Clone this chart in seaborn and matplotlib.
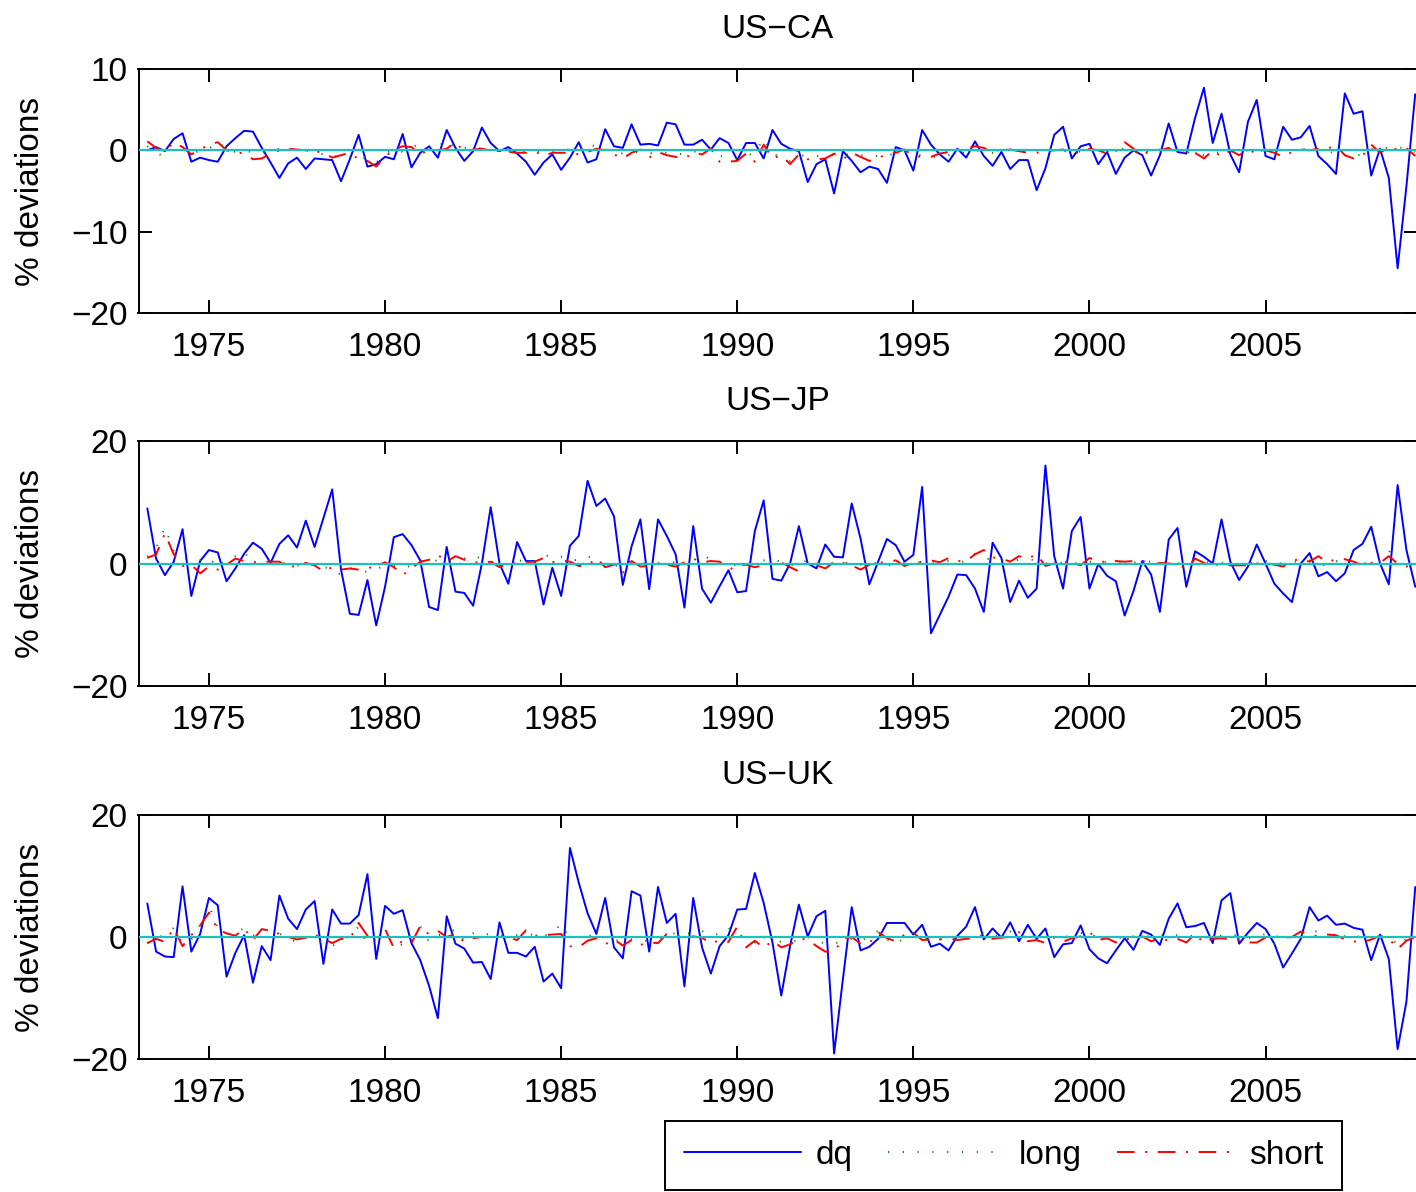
import numpy as np
import pandas as pd
import matplotlib
matplotlib.use("Agg")
import matplotlib.pyplot as plt
from matplotlib.lines import Line2D
import seaborn as sns

# Quarterly observations, 1973Q2 .. 2009Q2
first_quarter = 1973.25
n_quarters = 145
quarters = first_quarter + 0.25 * np.arange(n_quarters)

# ---------------- US-CA ----------------
ca_dq = [0.0, 0.4, -0.1, 1.4, 2.1, -1.4, -0.9, -1.2, -1.4, 0.5, 1.5, 2.4, 2.3, 0.3, -1.5, -3.4, -1.6, -0.9, -2.3, -1.0,
         -1.1, -1.2, -3.8, -1.1, 1.9, -2.0, -1.7, -0.8, -1.1, 2.0, -2.1, -0.3, 0.5, -0.9, 2.5, 0.3, -1.3, -0.1, 2.8, 0.9,
         -0.1, 0.4, -0.4, -1.4, -3.0, -1.5, -0.5, -2.4, -0.9,
         1.0, -1.5, -1.1, 2.6, 0.5, 0.3, 3.2, 0.7, 0.8, 0.6, 3.4, 3.2, 0.7, 0.7, 1.3, 0.1, 1.5, 0.9, -1.2, 0.9,
         0.9, -1.0, 2.5, 0.8, 0.2, -0.1, -3.9, -1.7, -1.1, -5.3, -0.1, -1.3, -2.7, -2.0, -2.3, -4.0, 0.4, 0.0, -2.5,
         2.5, 0.7, -0.5, -1.4, 0.2, -0.9, 1.1, -0.7, -1.9,
         -0.2, -2.3, -1.2, -1.2, -4.9, -2.2, 1.9, 2.9, -1.0, 0.5, 0.8, -1.7, -0.2, -2.9, -0.9, 0.0, -0.6, -3.1, -0.6,
         3.3, -0.2, -0.4, 4.0, 7.7, 0.9, 4.5, -0.5, -2.7, 3.5, 6.2, -0.7, -1.1, 2.9, 1.3, 1.6, 3.0, -0.7, -1.7, -2.9,
         7.0, 4.5, 4.8, -3.1, 0.2, -3.4, -14.5, -4.4, 6.9]
ca_long = [0.5, -0.3, -0.8, 0.4, 0.3, -0.5, 0.0, 0.2, 1.1, 0.1, -0.2, -0.1, -0.2, -0.3, -0.1, 0.2, 0.1, 0.2, 0.0, -0.3,
           -0.5, -0.9, -0.5, -0.8, -0.6, -1.1, -1.5, -0.4, 0.2, -0.2, 0.3, 0.9, 0.2, 0.4, 1.3, 0.2, 0.3, 0.5, 0.2, 0.1,
           0.0, -0.1, -0.2, -0.1, 0.0, -0.2, -0.1, 0.1, 0.1,
           -0.1, 0.9, 0.4, 0.1, -0.1, -0.4, -0.2, -0.3, -0.4, -0.2, -0.3, -0.4, -0.5, -0.2, 0.0, 0.2, -0.7, -0.8, -1.0,
           -0.6, -0.4, 1.5, -0.4, -0.9, -1.3, -0.6, -0.7, -0.7, -0.6, -0.6, -0.5, -0.5, -0.6, -0.8, -0.7, -0.7, -0.3,
           -0.2, -0.5, -0.6, -0.9, -0.7, -0.6, -0.4, -0.2, 0.0, -0.2, -0.3,
           0.1, 0.1, 0.0, -0.1, 0.0, 0.1, 0.2, 0.0, -0.4, -0.1, 0.1, 0.0, 0.0, -0.2, 0.3, 0.0, -0.8, 0.4, 0.1, 0.2,
           -0.1, -0.2, -0.4, -0.6, -0.2, -0.3, -0.1, -0.2, 0.0, -0.1, 0.0, -0.2, -0.3, 0.1, 0.4, -0.3, 0.1, 0.0, -0.5,
           -0.6, -1.0, -0.3, 0.2, 0.0, 0.4, 0.4, 0.2, -0.2]
ca_short = [1.1, 0.3, -0.2, 1.0, 0.4, -0.5, 0.1, 0.7, 1.0, 0.0, -0.2, -0.4, -1.1, -1.0, -0.4, 0.0, 0.2, 0.1, 0.0, -0.1,
            -0.3, -0.9, -0.6, -0.3, -1.1, -1.3, -2.0, -0.8, 0.1, 0.5, 0.4, -0.5, 0.1, 0.0, 0.2, 1.0, -0.2, 0.1, 0.2,
            0.0, -0.1, -0.2, -0.3, -0.3, -0.1, -0.7, -0.3, -0.3, -0.3,
            -0.5, -0.2, 0.2, 0.0, -0.5, -1.0, -0.3, 0.1, -0.9, -0.2, -0.6, -0.8, -1.0, -0.3, -0.5, 0.2, -1.4, -1.4,
            -1.3, -0.4, -1.4, 0.7, -1.0, -0.6, -1.7, -0.5, -1.1, -1.1, -1.0, -0.4, -1.1, -0.3, -0.8, -1.3, -1.0, -0.4,
            -0.3, 0.1, -0.7, -0.8, -0.8, -0.4, -0.2, 0.0, 0.2, 0.5, 0.3, -0.3,
            0.2, 0.1, -0.1, -0.3, -0.3, -0.1, 0.0, 0.1, -0.4, -0.2, 0.2, 0.0, -0.4, -0.1, 1.0, 0.2, -0.8, 0.2, 0.0,
            0.3, -0.4, -0.2, -0.3, -1.0, 0.0, -0.8, 0.0, -0.6, 0.1, -0.4, 0.0, -0.3, -0.8, -0.2, 0.1, 0.0, 0.2, 0.2,
            0.6, -0.6, -1.0, -0.7, 0.7, -0.3, 0.4, 0.1, 0.3, -0.7]

# ---------------- US-JP ----------------
jp_dq = [9.0, 0.8, -1.9, 0.3, 5.6, -5.3, 0.4, 2.2, 1.8, -2.9, -0.8, 1.6, 3.4, 2.4, 0.1, 3.2, 4.6, 2.6, 7.0, 2.7,
         7.4, 12.1, -1.0, -8.2, -8.4, -2.7, -10.1, -3.8, 4.3, 4.8, 3.0, 0.5, -7.1, -7.6, 2.7, -4.6, -4.8, -6.9, 0.0,
         9.2, 0.0, -3.3, 3.5, 0.4, 0.4, -6.7, -0.7, -5.3, 2.9,
         4.5, 13.5, 9.4, 10.6, 7.7, -3.5, 2.8, 7.2, -4.2, 7.2, 4.5, 1.5, -7.2, 6.1, -4.1, -6.4, -3.7, -1.1, -4.7,
         -4.5, 5.3, 10.3, -2.5, -2.8, 0.0, 6.1, 0.0, -0.8, 3.1, 1.1, 1.0, 9.8, 4.1, -3.4, 0.3, 4.0, 3.0, 0.3, 1.4,
         12.5, -11.4, -8.4, -5.4, -1.8, -1.9, -4.1, -7.9, 3.4,
         0.9, -6.3, -2.8, -5.6, -4.1, 16.0, 1.2, -4.1, 5.3, 7.6, -4.1, -0.1, -2.0, -2.9, -8.5, -4.5, 0.4, -1.8, -7.9,
         3.9, 5.8, -3.8, 2.0, 1.1, 0.0, 7.2, 0.3, -2.7, -0.5, 3.1, 0.0, -3.3, -4.9, -6.3, 0.0, 1.7, -2.1, -1.4, -2.9,
         -1.6, 2.2, 3.2, 6.0, 0.0, -3.4, 12.8, 2.2, -3.8]
jp_long = [1.1, 2.5, 5.9, 2.0, 0.9, 0.7, 0.6, 1.0, -0.7, 0.8, 1.2, 2.0, -0.3, 0.5, 0.3, 0.2, 0.0, -0.4, 0.2, -0.3,
           -0.6, -0.9, -1.9, -0.8, -1.0, -1.4, -0.8, -0.5, -0.4, -0.8, -0.3, 0.4, 0.0, 0.6, 0.3, 0.5, 0.8, 1.4, 0.7,
           0.4, -0.3, 0.0, 0.3, 0.7, 0.4, 1.5, 0.9, 1.1, 0.5,
           0.6, 1.2, 0.4, -0.3, -0.6, 0.4, 0.3, 0.0, 0.1, 0.1, 0.2, 0.2, -0.2, -0.5, 1.8, 0.4, 0.1, -0.4, -0.2, 0.0,
           0.2, 0.5, 0.8, 0.2, -0.2, -0.5, 0.7, 0.1, -0.3, 0.2, 0.4, -0.3, -0.2, 0.2, 0.0, -0.4, 0.0, 0.1, 0.2, 0.1,
           0.0, 0.2, 0.4, 0.3, 0.3, 1.6, 0.9, 0.6,
           0.5, 0.4, 0.6, 0.7, 0.5, 0.0, 0.2, 0.1, 0.0, 0.1, 0.3, 0.2, 0.2, 0.2, 0.1, 0.2, 0.3, 0.3, 0.1, 0.2, 0.0,
           0.3, 0.7, 0.3, 0.0, 0.1, 0.0, -0.1, 0.0, 0.2, 0.4, 0.1, 0.0, 0.4, 0.2, 0.5, 0.1, -0.5, 0.4, 0.2, -0.4, 0.0,
           0.2, 0.5, 2.1, -0.2, 0.1, -0.5]
jp_short = [0.9, 1.5, 4.9, 1.5, -0.4, -0.2, -1.6, -0.5, -1.0, -0.2, 0.8, 0.4, 0.2, 0.3, 0.3, 0.3, -0.8, -0.2, 0.1,
            -0.3, -1.3, -0.6, -1.0, -0.8, -1.0, -0.8, -0.4, 0.2, -0.6, -1.9, -0.8, 0.3, 0.6, 1.4, 0.3, 1.2, 0.6, 0.3,
            0.0, 0.3, -0.6, 0.1, 0.0, 0.2, 0.3, 0.9, 0.2, 0.5, 0.3,
            -0.4, -0.4, 0.9, -0.6, -0.2, -1.5, 0.4, -0.5, -0.4, 0.0, -0.2, -0.5, 0.2, 0.8, 0.2, 0.4, 0.3, -1.1, -0.3,
            -0.2, -0.6, -0.3, -0.1, 0.2, -0.6, -1.3, 0.1, -0.3, -0.8, 0.2, 0.1, -0.3, -1.0, -0.2, 0.1, 0.3, 0.5, -0.4,
            0.1, 0.3, 0.5, 0.2, 0.9, 0.4, 0.4, 1.5, 2.2, 1.0,
            0.8, 0.3, 1.2, 0.8, 1.5, -0.4, 0.0, 0.3, 0.1, -0.3, 0.9, 0.4, 0.2, 0.4, 0.3, 0.4, 0.5, -0.3, 0.1, 0.0,
            -0.2, -0.8, 0.8, 0.1, -0.4, 0.0, -0.3, -0.3, -0.3, 0.0, 0.1, -0.2, -0.5, 0.4, 0.8, 0.3, 1.2, 0.2, 0.7, 0.7,
            0.3, -0.3, 0.1, 0.1, 1.2, 0.0, -0.5, 0.0]

# ---------------- US-UK ----------------
uk_dq = [5.5, -2.4, -3.2, -3.3, 8.3, -2.4, 0.5, 6.4, 5.2, -6.5, -2.6, 0.3, -7.5, -1.5, -3.8, 6.8, 3.0, 1.3, 4.5, 5.9,
         -4.4, 4.5, 2.2, 2.2, 3.6, 10.3, -3.6, 5.1, 3.8, 4.4, -1.0, -3.8, -8.0, -13.3, 3.4, -1.1, -1.9, -4.2, -4.1,
         -6.9, 2.4, -2.6, -2.6, -3.2, -1.6, -7.3, -6.0, -8.4, 14.6,
         8.9, 3.9, 0.5, 6.4, -1.7, -3.5, 7.5, 6.8, -2.4, 8.2, 2.3, 3.8, -8.1, 6.4, -1.7, -6.0, -1.5, 0.3, 4.5, 4.6,
         10.5, 5.6, -0.9, -9.6, -1.5, 5.3, 0.1, 3.4, 4.3, -19.1, -6.9, 4.9, -2.2, -1.6, -0.3, 2.3, 2.3, 2.3, 0.4,
         2.0, -1.6, -1.1, -2.2, 0.2, 1.7, 4.9, -0.4, 1.4,
         -0.1, 2.4, -0.7, 2.0, -0.3, 1.4, -3.3, -1.2, -1.0, 1.9, -2.0, -3.5, -4.3, -2.2, -0.2, -2.1, 1.0, 0.4, -1.3,
         3.0, 5.5, 1.6, 1.8, 2.3, -1.0, 6.0, 7.2, -1.1, 0.7, 2.3, 1.3, -1.1, -5.0, -2.7, -0.3, 4.9, 2.7, 3.5, 2.0,
         2.2, 1.5, 1.2, -3.8, 0.4, -3.6, -18.4, -10.6, 8.2]
uk_long = [-1.0, -0.1, 0.3, 1.5, -1.1, -0.4, 2.0, 5.2, 1.5, 0.5, 0.8, 1.4, 0.2, 0.9, 1.3, 0.5, 0.1, -1.1, -0.2, -0.4,
           -1.0, -1.5, -0.5, 0.2, 1.7, -1.1, -0.3, 0.2, -0.5, -1.4, -0.4, 1.8, -0.8, 0.3, 0.5, 1.3, -0.7, 0.6, 0.2,
           0.6, 0.3, 0.2, 0.3, 0.4, 0.4, 0.2, 0.6, 2.2, -0.4,
           0.2, 0.0, 0.7, -0.3, -0.5, -0.7, -0.4, -0.8, -0.5, -0.3, 0.5, 0.6, 0.7, 0.5, 1.0, 0.3, 0.5, 1.5, 0.3, -0.5,
           -0.9, 0.3, -0.5, -0.8, -0.6, -0.7, 0.0, -0.6, -1.1, -1.1, -0.6, -0.3, -0.8, 0.2, 1.0, -0.4, -1.2, -0.1,
           0.7, 0.3, -0.8, -0.4, -0.3, -0.2, -0.3, 0.3, 0.8, 0.1,
           0.3, 0.9, 0.4, -0.2, -0.7, -0.3, 0.1, 0.0, 0.2, 0.6, 1.0, -0.5, -0.3, -0.7, 0.5, 0.1, 0.0, 0.2, 0.5, 0.1,
           0.3, 0.3, 0.1, -0.1, 0.0, 0.2, 0.5, 0.1, -0.2, 0.1, 0.5, -1.1, -0.3, 0.2, 0.4, 1.0, 0.9, 0.3, 0.5, 0.1,
           -0.2, 0.3, 0.1, -0.7, 0.5, -1.5, -0.3, 0.0]
uk_short = [-1.0, -0.3, -0.8, 1.4, -1.5, 0.3, 1.9, 4.0, 1.2, 0.6, 0.2, 1.4, -0.5, 1.3, 1.0, 0.5, 0.0, -0.4, -0.1,
            0.4, -0.3, -1.0, -0.3, -0.3, 2.3, 0.2, -0.4, 1.3, -1.8, -0.6, -1.0, 1.8, 0.4, 1.0, 0.0, 0.5, -0.8, -0.2,
            0.0, 0.0, 0.0, -0.1, -0.5, 1.1, 0.2, 0.3, 0.4, 0.5, -1.5,
            -1.7, -0.6, -0.2, -1.2, -0.4, -1.4, -0.5, -1.3, -0.9, -1.0, 0.5, 0.4, -0.2, 0.1, -0.1, -1.1, -0.5, -0.8,
            1.7, -1.7, -0.6, -1.8, -0.6, -1.7, -1.2, -0.3, -0.4, -1.5, -2.4, -2.4, -0.3, 0.0, -1.1, -1.0, 0.8, -0.2,
            -0.7, 0.4, 0.7, -0.5, -0.4, -0.4, -0.2, -0.5, -0.3, -0.2, 0.4, -0.3,
            -0.1, 0.0, 0.8, -0.7, -0.5, -1.0, -0.1, -0.8, -0.2, 0.1, 0.8, -0.5, -0.2, -0.9, -0.3, -0.4, 0.1, -0.7,
            -0.2, -0.6, -0.3, -0.9, 0.5, -1.0, -0.3, -0.2, -0.4, -0.5, -0.9, -0.9, -0.1, 0.2, -0.2, 0.0, 0.9, 0.4, 0.1,
            0.4, 0.3, -0.4, -0.7, -0.9, -0.4, 0.2, -0.2, -2.0, -0.6, 0.0]

panel_titles = ["US\u2212CA", "US\u2212JP", "US\u2212UK"]
panel_series = [(ca_dq, ca_long, ca_short), (jp_dq, jp_long, jp_short), (uk_dq, uk_long, uk_short)]
panel_ylims = [(-20, 10), (-20, 20), (-20, 20)]
panel_yticks = [[-20, -10, 0, 10], [-20, 0, 20], [-20, 0, 20]]
year_ticks = [1975, 1980, 1985, 1990, 1995, 2000, 2005]

sns.set_theme(style="ticks")
plt.rcParams.update({
    "font.family": ["Liberation Sans", "DejaVu Sans"],
    "font.size": 24,
    "text.color": "black",
    "axes.labelcolor": "black",
    "axes.titlecolor": "black",
    "axes.linewidth": 1.4,
    "axes.edgecolor": "black",
    "xtick.direction": "in",
    "ytick.direction": "in",
    "xtick.top": True,
    "ytick.right": True,
    "xtick.major.size": 9.4,
    "ytick.major.size": 9.4,
    "xtick.major.width": 1.4,
    "ytick.major.width": 1.4,
    "xtick.labelsize": 24,
    "ytick.labelsize": 24,
    "xtick.color": "black",
    "ytick.color": "black",
})

W, H = 1416, 1192
fig = plt.figure(figsize=(W / 100, H / 100), dpi=100)
fig.patch.set_facecolor("white")

left_px, right_px = 138.5, 1417.0
tops_px = [69, 441, 815]
bottoms_px = [313, 686, 1059]

line_w = 1.4
dq_style = dict(color="#0000ff", linewidth=line_w)
long_style = dict(color="#008000", linewidth=line_w, linestyle=(0, (0.6, 7.0)))
short_style = dict(color="#ff0000", linewidth=line_w, linestyle=(0, (9.0, 5.5, 1.0, 5.5)))

axes = []
for k in range(3):
    rect = [left_px / W, 1 - bottoms_px[k] / H, (right_px - left_px) / W, (bottoms_px[k] - tops_px[k]) / H]
    ax = fig.add_axes(rect)
    dq, lg, sh = panel_series[k]
    df = pd.DataFrame({"date": quarters, "dq": dq, "long": lg, "short": sh})
    sns.lineplot(data=df, x="date", y="dq", ax=ax, label="dq", legend=False, estimator=None, **dq_style)
    sns.lineplot(data=df, x="date", y="long", ax=ax, label="long", legend=False, estimator=None, **long_style)
    sns.lineplot(data=df, x="date", y="short", ax=ax, label="short", legend=False, estimator=None, **short_style)
    ax.axhline(0, color="#1cc0c0", linewidth=1.6, zorder=5)

    ax.set_xlim(1973.0, 2009.3)
    ax.set_ylim(*panel_ylims[k])
    ax.set_xticks(year_ticks)
    ax.set_yticks(panel_yticks[k])
    ax.set_yticklabels([str(v).replace("-", "\u2212") for v in panel_yticks[k]])
    ax.tick_params(axis="x", pad=14)
    ax.tick_params(axis="y", pad=8)
    ax.set_xlabel("")
    ax.set_ylabel("% deviations", fontsize=24)
    ax.yaxis.set_label_coords((46 - left_px) / (right_px - left_px), 0.5)
    ax.set_title(panel_titles[k], fontsize=24, pad=22)
    for s in ax.spines.values():
        s.set_visible(True)
        s.set_linewidth(1.4)
    ax.grid(False)
    axes.append(ax)

handles = [Line2D([], [], **dq_style), Line2D([], [], **long_style), Line2D([], [], **short_style)]
leg = fig.legend(handles, ["dq", "long", "short"], loc="center",
                 bbox_to_anchor=(1003.5 / W, 1 - 1155.5 / H), ncol=3, fontsize=24,
                 frameon=True, fancybox=False, edgecolor="black", framealpha=1,
                 handlelength=3.5, handletextpad=0.45, columnspacing=1.05,
                 borderpad=0.58, borderaxespad=0)
leg.get_frame().set_linewidth(1.4)

fig.savefig("out.png", dpi=100, facecolor="white")
